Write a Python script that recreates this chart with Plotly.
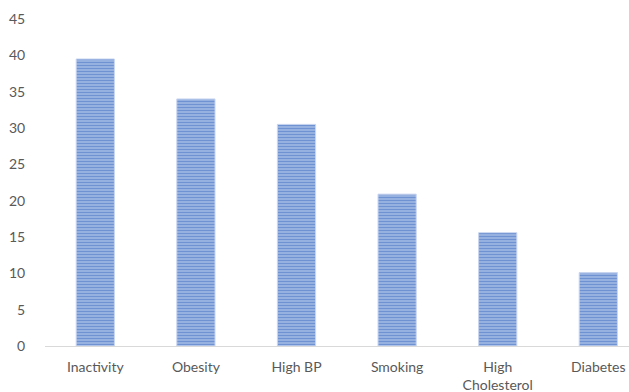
import plotly.graph_objects as go

categories = ["Inactivity", "Obesity", "High BP", "Smoking", "High<br>Cholesterol", "Diabetes"]
values = [39.5, 34.0, 30.5, 20.9, 15.6, 10.1]
y_ticks = [0, 5, 10, 15, 20, 25, 30, 35, 40, 45]

fig = go.Figure(go.Bar(
    x=list(range(len(categories))),
    y=values,
    width=0.38,
    marker=dict(
        color="#9DB4E3",
        line=dict(color="#C9D6F0", width=1),
        pattern=dict(shape="-", fgcolor="#4472C4", bgcolor="#9AB3E2",
                     size=3, solidity=0.4),
    ),
    hoverinfo="skip",
))

fig.update_layout(
    width=629, height=392,
    margin=dict(l=45, r=0, t=19, b=46),
    paper_bgcolor="white", plot_bgcolor="white",
    font=dict(family="Lato", size=14, color="#595959"),
    showlegend=False,
    bargap=0.62,
)
fig.update_xaxes(
    tickmode="array",
    tickvals=list(range(len(categories))),
    ticktext=categories,
    range=[-0.5, 5.305],
    showline=True, linecolor="#D9D9D9", linewidth=1,
    showgrid=False, zeroline=False,
    ticks="outside", ticklen=8, tickcolor="rgba(0,0,0,0)",
)
fig.update_yaxes(
    range=[0, 45],
    tickmode="array", tickvals=y_ticks,
    showgrid=False, zeroline=False, showline=False,
    ticks="outside", ticklen=16, tickcolor="rgba(0,0,0,0)",
)

fig.write_html("out.html")
